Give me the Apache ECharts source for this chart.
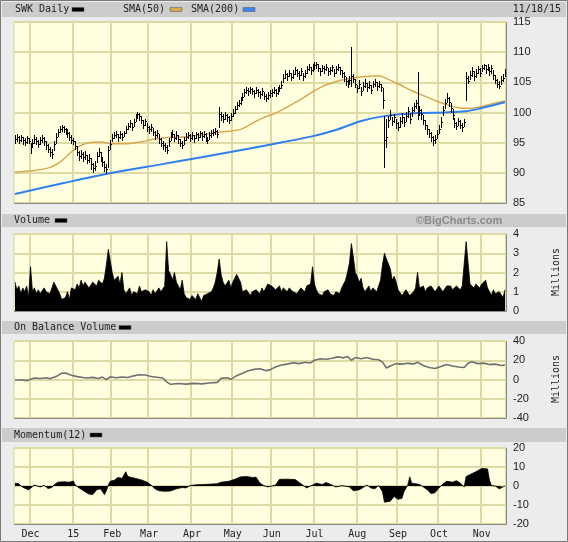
<!DOCTYPE html>
<html><head><meta charset="utf-8">
<script src="https://cdn.jsdelivr.net/npm/echarts@6/dist/echarts.min.js"></script>
<style>html,body{margin:0;padding:0;background:#ececec}#c{width:568px;height:542px}</style>
</head><body><div id="c"></div>
<script>
// ---- categories (trading days) ----
const startDate = '2014-11-18';
const endDate = '2015-11-18';
const holidays = ['2014-11-27','2014-12-25','2015-01-01','2015-01-19','2015-02-16','2015-04-03','2015-05-25','2015-07-03','2015-09-07'];
const monthStarts = ['2014-12-01','2015-01-02','2015-02-02','2015-03-02','2015-04-01','2015-05-01','2015-06-01','2015-07-01','2015-08-03','2015-09-01','2015-10-01','2015-11-02'];
const monthLabels = ['Dec','15','Feb','Mar','Apr','May','Jun','Jul','Aug','Sep','Oct','Nov'];

// ---- price (daily) ----
const closes = [
 95.6,96.0,95.4,95.9,95.5,95.1,95.7,95.3,
 94.2,95.0,95.6,95.3,94.8,95.4,95.7,95.2,94.6,94.0,93.4,93.1,94.8,96.0,96.8,97.3,97.6,97.2,97.0,96.6,96.0,95.5,
 95.2,94.5,93.5,92.8,93.2,92.6,93.0,92.2,92.5,91.4,90.8,91.2,92.8,93.5,92.6,91.8,91.0,90.6,93.8,94.8,
 95.8,96.2,96.5,95.9,96.4,96.0,96.6,97.2,97.8,98.2,97.6,98.4,99.2,99.7,99.4,98.8,98.0,98.6,97.6,
 97.2,97.6,96.8,96.2,96.6,95.6,95.0,94.6,94.2,93.8,95.2,96.2,96.5,95.8,96.3,95.6,95.0,94.6,95.4,96.0,96.3,95.8,
 96.2,95.7,96.4,96.0,96.6,96.1,96.5,96.0,95.4,96.2,96.6,96.8,97.0,96.5,99.8,99.4,99.0,99.6,99.2,98.8,99.5,
 100.0,100.6,101.2,101.6,102.0,102.6,103.4,103.8,103.5,103.9,103.6,103.2,103.8,103.4,103.0,103.5,102.8,102.4,102.9,103.2,
 103.4,103.8,103.3,103.7,104.0,104.6,105.8,106.4,106.0,106.6,105.9,106.4,107.0,106.6,106.2,106.8,106.0,106.5,107.2,107.6,107.0,107.5,
 107.8,108.0,107.4,106.8,107.4,107.2,107.6,106.8,107.0,107.5,106.6,107.2,107.6,107.0,106.5,106.0,105.2,104.8,105.4,106.0,105.6,104.8,
 104.0,104.8,103.6,104.4,104.9,104.2,104.6,103.8,104.8,105.0,104.4,104.7,104.2,102.0,95.5,96.0,98.8,99.6,98.6,99.2,98.2,
 97.6,98.6,99.2,98.4,99.4,100.2,99.0,100.4,101.0,101.6,100.6,100.4,99.8,98.8,98.0,97.2,96.6,96.0,95.4,95.6,96.4,
 97.2,98.4,100.4,101.6,102.4,101.8,100.8,99.6,98.2,97.8,98.6,98.0,97.6,98.4,105.8,105.2,106.2,106.8,106.0,106.6,107.2,106.6,
 107.4,107.8,107.2,107.6,106.8,107.3,106.2,105.4,104.8,104.4,105.4,105.8,106.8
];
const highs = [
 96.2,96.5,96.1,96.3,96.0,95.8,96.1,95.8,
 95.0,95.6,96.2,96.0,95.5,95.9,96.3,95.9,95.3,94.8,94.2,94.0,95.3,96.6,97.3,97.7,97.9,97.8,97.5,97.2,96.8,96.2,
 95.8,95.3,94.4,93.6,93.8,93.4,93.6,93.0,93.1,92.4,91.6,91.9,93.4,94.1,93.4,92.5,91.9,91.4,94.5,95.4,
 96.4,96.8,96.9,96.5,96.9,96.6,97.0,97.7,98.3,98.7,98.3,98.9,99.7,100.1,99.9,99.4,98.7,99.0,98.3,
 97.8,98.1,97.5,96.9,97.1,96.4,95.7,95.3,94.9,94.6,95.8,96.8,97.1,96.5,96.9,96.3,95.6,95.3,95.9,96.6,96.8,96.4,
 96.7,96.3,96.8,96.6,97.0,96.7,96.9,96.6,96.0,96.7,97.1,97.3,97.4,97.1,100.9,100.1,99.7,100.1,99.8,99.4,100.0,
 100.5,101.1,101.7,102.1,102.5,103.2,103.9,104.2,104.0,104.3,104.1,103.8,104.2,103.9,103.6,104.0,103.4,103.0,103.4,103.7,
 103.9,104.2,103.9,104.2,104.5,105.2,106.4,107.0,106.6,107.1,106.5,107.0,107.5,107.2,106.8,107.3,106.6,107.0,107.7,108.1,107.6,108.0,
 108.3,108.4,108.0,107.4,107.9,107.7,108.1,107.4,107.5,107.9,107.2,107.7,108.0,107.6,107.1,106.7,105.9,105.4,106.0,110.9,106.3,105.5,
 104.6,105.4,104.3,105.0,105.5,104.9,105.2,104.5,105.3,105.5,105.0,105.2,104.8,104.0,99.5,99.0,99.4,100.4,99.3,99.8,99.0,
 98.5,99.3,99.9,99.2,100.1,100.9,100.0,100.9,101.6,102.0,106.7,101.0,100.5,99.6,98.7,97.9,97.3,96.8,96.1,96.3,97.1,
 97.9,99.2,101.0,102.3,103.2,102.6,101.6,100.5,99.1,98.5,99.1,98.7,98.3,99.0,106.7,106.0,106.8,107.5,106.8,107.2,107.7,107.3,
 107.9,108.1,107.8,108.0,107.4,107.8,107.0,106.2,105.6,105.2,106.0,106.4,107.2
];
const lows = [
 95.0,95.3,94.9,95.2,94.8,94.6,95.0,94.9,
 93.3,94.3,95.0,94.7,94.2,94.7,95.1,94.6,94.0,93.4,92.8,92.5,93.8,95.0,96.1,96.7,97.0,96.7,96.4,96.0,95.4,95.0,
 94.8,94.0,92.9,92.1,92.5,92.0,92.3,91.7,91.8,90.6,90.1,90.4,91.8,92.8,91.9,91.1,90.3,90.0,91.0,94.0,
 95.2,95.7,96.0,95.3,95.8,95.4,96.1,96.6,97.2,97.6,97.1,97.8,98.6,99.1,98.8,98.2,97.4,97.9,97.0,
 96.6,97.0,96.2,95.6,96.0,95.0,94.4,94.0,93.6,93.3,94.4,95.5,95.9,95.2,95.6,95.0,94.4,94.1,94.8,95.4,95.7,95.2,
 95.6,95.1,95.8,95.4,96.0,95.5,95.9,95.3,94.9,95.6,96.0,96.3,96.4,96.0,97.6,98.8,98.4,98.9,98.6,98.3,98.8,
 99.4,100.0,100.6,101.0,101.4,102.0,102.8,103.2,102.9,103.3,103.0,102.6,103.2,102.8,102.4,102.9,102.2,101.9,102.3,102.6,
 102.8,103.2,102.7,103.1,103.5,104.0,105.0,105.8,105.4,106.0,105.4,105.8,106.4,106.0,105.6,106.2,105.4,105.9,106.6,107.0,106.4,106.9,
 107.2,107.4,106.8,106.2,106.8,106.6,107.0,106.2,106.4,106.9,106.0,106.6,107.0,106.4,105.9,105.3,104.6,104.2,104.8,104.4,105.0,104.2,
 103.4,104.1,102.9,103.8,104.3,103.6,104.0,103.2,104.2,104.4,103.8,104.2,103.6,100.7,91.0,94.3,97.6,98.9,97.9,98.5,97.4,
 97.1,97.6,98.3,97.7,98.6,99.3,98.3,99.5,100.2,100.8,99.0,99.6,99.0,98.1,97.3,96.5,95.9,95.2,94.6,94.9,95.7,
 96.6,97.6,99.6,100.8,101.7,101.1,100.1,99.0,97.6,97.2,97.9,97.4,97.0,97.7,102.1,104.9,105.5,106.1,105.4,105.9,106.5,106.0,
 106.8,107.2,106.6,107.0,106.2,106.6,105.6,104.9,104.2,104.0,104.8,105.2,106.0
];
// moving averages: [day index, value]
const sma50 = [[0,90.1],[10,90.4],[18,90.9],[24,92.0],[28,93.2],[33,94.4],[38,95.0],[44,95.1],[50,94.8],[57,94.8],[64,95.1],[72,95.6],[80,95.9],[88,96.0],[96,96.3],[104,96.7],[110,96.9],[116,97.2],[122,98.2],[128,99.2],[134,99.9],[140,100.9],[146,102.0],[152,103.2],[158,104.3],[164,105.0],[170,105.5],[176,105.8],[182,106.0],[187,106.1],[192,105.5],[198,104.6],[204,103.6],[210,102.8],[216,102.0],[222,101.3],[228,100.8],[234,100.7],[240,101.0],[246,101.5],[252,101.9]];
const sma200 = [[0,86.5],[25,88.3],[50,90.0],[75,91.4],[96,92.6],[120,94.0],[138,95.1],[152,96.0],[165,97.1],[178,98.6],[190,99.4],[207,99.9],[221,100.0],[232,100.2],[242,100.9],[252,101.7]];

// ---- volume (millions, daily) ----
const volume = [
 1.5,1.1,1.3,0.9,1.2,1.0,1.3,0.7,
 2.3,1.0,1.2,0.9,1.1,0.9,1.0,1.2,1.0,1.1,0.9,1.0,1.5,1.3,1.1,0.9,0.6,0.5,0.7,1.0,0.6,1.2,
 1.3,1.1,1.4,1.2,1.6,1.3,1.5,1.4,1.2,1.3,1.5,1.4,1.3,1.6,1.5,1.4,1.7,2.4,3.2,2.6,
 2.0,1.6,1.5,1.8,1.4,2.0,1.1,0.9,1.0,1.2,0.8,1.0,1.1,0.9,1.3,1.0,0.9,1.1,1.2,
 1.0,0.8,1.1,0.9,1.0,1.2,1.0,0.9,1.3,3.6,2.1,1.9,1.6,2.0,1.5,1.3,1.1,1.6,0.9,0.7,0.8,0.6,
 0.8,0.7,0.6,0.9,0.7,0.5,0.8,0.7,0.9,0.8,1.0,1.2,1.5,2.0,2.7,1.9,1.5,1.3,1.4,1.6,1.2,
 1.5,1.6,1.9,1.7,1.5,1.0,0.9,1.1,1.0,0.8,1.0,0.9,1.1,1.0,0.9,1.2,1.0,0.9,1.4,1.5,
 1.3,1.2,1.1,1.0,1.3,1.0,1.2,1.1,1.0,1.2,1.3,1.0,1.1,0.9,1.0,1.2,1.1,1.0,1.3,1.2,1.4,2.3,
 1.4,1.1,0.9,1.0,0.8,1.0,0.9,1.1,0.9,1.0,0.8,1.0,1.1,0.9,1.2,1.4,1.6,2.0,2.5,3.5,2.8,2.0,
 1.8,1.5,1.7,1.2,1.0,1.1,1.3,1.0,1.2,1.1,1.0,1.3,1.6,2.4,3.0,2.7,2.8,2.2,1.6,1.8,1.5,
 1.1,1.0,0.8,0.9,1.1,1.0,0.8,0.9,1.0,1.2,2.0,1.2,1.1,1.3,1.0,1.2,1.1,1.3,1.2,1.0,1.1,
 1.3,1.2,1.0,1.1,1.3,1.2,1.3,1.1,1.2,1.3,1.2,1.1,1.3,1.3,3.6,2.5,1.4,1.3,1.2,1.4,1.3,1.2,
 1.4,1.3,1.6,1.2,1.0,0.8,1.1,0.9,0.8,1.0,1.1,0.7,1.1
];
// ---- on balance volume (millions): [day index, value] ----
const obv = [[0,-0.8],[3,-0.3],[6,-1.2],[8,0.3],[10,1.6],[13,1.0],[16,1.8],[18,0.9],[19,0.2],[22,4.0],[24,6.5],[26,6.8],[29,4.5],[32,3.0],[35,2.0],[37,1.5],[40,2.2],[43,1.0],[45,2.5],[47,-0.2],[49,2.8],[52,1.8],[55,2.6],[58,2.0],[61,3.8],[64,5.0],[67,4.6],[70,3.2],[73,2.4],[76,1.5],[78,-2.5],[80,-5.0],[84,-4.2],[88,-4.8],[92,-4.0],[96,-4.5],[100,-3.6],[104,-3.0],[106,1.2],[109,1.8],[111,0.2],[114,4.0],[117,6.5],[120,9.0],[123,10.5],[126,11.2],[129,9.2],[131,10.0],[134,13.0],[137,15.0],[140,16.0],[143,17.5],[146,16.5],[149,18.0],[152,17.2],[154,20.0],[157,21.5],[160,21.0],[163,22.0],[166,23.5],[169,22.5],[171,23.8],[173,20.0],[175,22.8],[178,21.5],[181,22.8],[184,21.0],[187,20.5],[189,18.0],[191,12.0],[193,14.0],[196,16.5],[199,16.0],[202,16.8],[205,16.2],[207,18.0],[210,14.5],[213,12.5],[216,11.5],[219,13.5],[222,15.5],[225,14.0],[228,13.0],[231,12.5],[233,17.0],[235,18.5],[238,16.5],[241,17.0],[244,15.5],[247,16.0],[250,14.5],[252,15.0]];
// ---- momentum(12): [day index, value] ----
const momentum = [[0,1.5],[1,2.0],[2,1.2],[3,0],[5,-1.2],[7,-2.0],[8,-1.0],[10,0.5],[13,-0.5],[15,0.3],[17,-1.3],[19,-0.8],[20,0.5],[22,2.0],[25,2.2],[28,2.0],[30,2.6],[31,0.5],[33,-1.0],[36,-3.0],[38,-4.2],[40,-4.5],[41,-3.5],[42,-2.0],[44,-1.5],[46,-4.5],[47,-2.5],[48,0.5],[49,2.5],[51,3.0],[53,4.5],[55,4.0],[57,7.5],[58,5.0],[60,4.5],[62,4.0],[65,3.2],[68,2.0],[70,0.5],[72,-1.5],[74,-2.5],[77,-2.8],[80,-2.6],[83,-1.5],[86,-0.8],[88,-1.0],[90,0.2],[93,0.6],[97,0.8],[101,1.0],[104,1.2],[106,2.0],[110,2.5],[113,3.5],[116,4.8],[119,5.0],[122,4.5],[124,4.6],[126,1.5],[128,0.2],[130,-0.5],[132,0],[134,0.5],[136,3.5],[140,3.6],[144,3.4],[146,2.0],[148,0.5],[150,-1.0],[151,-0.3],[153,0.5],[155,1.5],[158,0.8],[160,1.8],[163,0.5],[165,-0.5],[168,0.2],[172,-0.5],[174,-2.5],[177,-2.0],[179,-0.8],[181,0.5],[183,-1.0],[185,-1.5],[187,0.3],[188,0],[189,-3.0],[190,-8.5],[191,-9.5],[193,-8.0],[195,-5.5],[197,-7.0],[199,-6.5],[200,-3.0],[202,0.5],[203,4.8],[204,1.5],[206,1.2],[208,0.8],[210,-0.5],[212,-2.0],[214,-4.0],[216,-3.5],[217,-4.2],[218,-1.0],[220,1.0],[222,2.5],[225,2.0],[227,2.8],[229,1.5],[231,-0.5],[232,5.0],[234,6.0],[237,7.5],[240,9.2],[243,9.0],[244,3.0],[245,0.2],[247,0],[249,-1.5],[251,-0.5],[252,0]];

// ---- build trading-day categories ----
const dates = [];
for (let d = new Date(startDate + 'T00:00:00Z'); d <= new Date(endDate + 'T00:00:00Z'); d.setUTCDate(d.getUTCDate() + 1)) {
  const wd = d.getUTCDay();
  const s = d.toISOString().slice(0, 10);
  if (wd === 0 || wd === 6 || holidays.includes(s)) continue;
  dates.push(s);
}
if (dates.length !== closes.length || highs.length !== closes.length || lows.length !== closes.length || volume.length !== closes.length) {
  throw new Error('length mismatch ' + dates.length + ' ' + closes.length + ' ' + highs.length + ' ' + lows.length + ' ' + volume.length);
}
const labelOf = {};
monthStarts.forEach((m, i) => { labelOf[m] = monthLabels[i]; });
const isMonthStart = (idx, val) => labelOf[val] !== undefined;
const bars = dates.map((d, i) => [i, lows[i], highs[i], closes[i]]);

const MONO = "'DejaVu Sans Mono', monospace";
const SANS = "'Liberation Sans', Arial, sans-serif";
const GRIDC = '#dedaa4';
const PLOT_BG = '#ffffe0';
const grids = [
  {left: 14, top: 22, width: 492, height: 181},
  {left: 14, top: 234, width: 492, height: 77},
  {left: 14, top: 341, width: 492, height: 77},
  {left: 14, top: 448, width: 492, height: 76}
].map(g => Object.assign(g, {show: true, backgroundColor: PLOT_BG, borderColor: '#d6d29e', borderWidth: 1}));

function xAx(gi, showLabels) {
  return {
    type: 'category', gridIndex: gi, data: dates, boundaryGap: true,
    axisLine: {show: false}, axisTick: {show: false},
    axisLabel: {show: showLabels, interval: isMonthStart, formatter: v => labelOf[v] || '',
      fontFamily: MONO, fontSize: 10, color: '#222', margin: 5},
    splitLine: {show: true, interval: isMonthStart, lineStyle: {color: GRIDC, width: 2}}
  };
}
function yAx(gi, min, max, interval) {
  return {
    type: 'value', gridIndex: gi, position: 'right', min, max, interval,
    axisLine: {show: false}, axisTick: {show: false},
    axisLabel: {fontFamily: SANS, fontSize: 11, color: '#222', margin: 7},
    splitLine: {show: true, lineStyle: {color: GRIDC, width: 2}}
  };
}

const headerBars = [[2, 15], [214, 13], [321, 13], [428, 14]];
const graphic = [];
headerBars.forEach(([y, h]) => graphic.push({type: 'rect', shape: {x: 2, y, width: 564, height: h}, style: {fill: '#cccccc'}, silent: true}));
function txt(x, y, s, opts, rot) {
  graphic.push({type: 'text', x, y, rotation: rot || 0, style: Object.assign({text: s, font: '10px ' + MONO, fill: '#222', textVerticalAlign: 'middle'}, opts || {}), silent: true});
}
function dash(x, y, color) {
  graphic.push({type: 'rect', shape: {x, y: y - 2, width: 12, height: 4}, style: {fill: color, stroke: '#555', lineWidth: 0.5}, silent: true});
}
txt(15, 9.5, 'SWK Daily'); dash(72, 9.5, '#000');
txt(123, 9.5, 'SMA(50)'); dash(170, 9.5, '#d8a850');
txt(191, 9.5, 'SMA(200)'); dash(243, 9.5, '#3a86ef');
txt(561, 9.5, '11/18/15', {textAlign: 'right'});
txt(14, 220.5, 'Volume'); dash(55, 220.5, '#000');
txt(416, 220.5, '\u00a9BigCharts.com', {font: 'bold 11px ' + SANS, fill: '#8a8a8a'});
txt(14, 327.5, 'On Balance Volume'); dash(119, 327.5, '#000');
txt(14, 435, 'Momentum(12)'); dash(90, 435, '#000');
// axis unit names, reading bottom to top
txt(556, 272, 'Millions', {textAlign: 'center'}, Math.PI / 2);
txt(556, 379, 'Millions', {textAlign: 'center'}, Math.PI / 2);
// plot edge shadows
grids.forEach(g => {
  const r = g.left + g.width + 0.5, b = g.top + g.height + 0.5;
  graphic.push({type: 'polyline', shape: {points: [[r, g.top], [r, b], [g.left, b]]}, style: {stroke: '#8a8a8a', lineWidth: 1, fill: null}, silent: true, z: 50});
});
// outer frame
graphic.push({type: 'rect', shape: {x: 0.5, y: 0.5, width: 567, height: 541}, style: {fill: null, stroke: '#7a7a7a', lineWidth: 1}, silent: true, z: 50});

const chart = echarts.init(document.getElementById('c'), null, {renderer: 'canvas'});
chart.setOption({
  animation: false,
  backgroundColor: '#ececec',
  grid: grids,
  xAxis: [xAx(0, false), xAx(1, false), xAx(2, false), xAx(3, true)],
  yAxis: [yAx(0, 85, 115, 5), yAx(1, 0, 4, 1), yAx(2, -40, 40, 20), yAx(3, -20, 20, 10)],
  graphic: graphic,
  series: [
    {
      type: 'custom', name: 'SWK Daily', xAxisIndex: 0, yAxisIndex: 0, data: bars,
      encode: {x: 0, y: [1, 2, 3]}, clip: true, z: 3,
      renderItem: function (params, api) {
        const i = api.value(0);
        const lo = api.coord([i, api.value(1)]);
        const hi = api.coord([i, api.value(2)]);
        const cl = api.coord([i, api.value(3)]);
        const x = Math.round(lo[0]) + 0.5;
        const cy = Math.round(cl[1]) + 0.5;
        return {type: 'group', children: [
          {type: 'line', shape: {x1: x, y1: Math.round(hi[1]), x2: x, y2: Math.round(lo[1]) + 1}, style: {stroke: '#000', lineWidth: 1}},
          {type: 'line', shape: {x1: x, y1: cy, x2: x + 1.5, y2: cy}, style: {stroke: '#000', lineWidth: 1}}
        ]};
      }
    },
    {type: 'line', name: 'SMA(50)', xAxisIndex: 0, yAxisIndex: 0, data: sma50, smooth: 0.3, symbol: 'none', lineStyle: {color: '#d8a850', width: 1.5}, z: 2},
    {type: 'line', name: 'SMA(200)', xAxisIndex: 0, yAxisIndex: 0, data: sma200, smooth: 0.3, symbol: 'none', lineStyle: {color: '#2f7fef', width: 2}, z: 2},
    {type: 'line', name: 'Volume', xAxisIndex: 1, yAxisIndex: 1, data: volume, symbol: 'none', lineStyle: {color: '#000', width: 0.8}, areaStyle: {color: '#000', opacity: 1}},
    {type: 'line', name: 'On Balance Volume', xAxisIndex: 2, yAxisIndex: 2, data: obv, symbol: 'none', lineStyle: {color: '#707070', width: 1.6}},
    {type: 'line', name: 'Momentum(12)', xAxisIndex: 3, yAxisIndex: 3, data: momentum, symbol: 'none', lineStyle: {color: '#000', width: 0.8}, areaStyle: {color: '#000', opacity: 1, origin: 0}}
  ]
});
</script>
</body></html>
